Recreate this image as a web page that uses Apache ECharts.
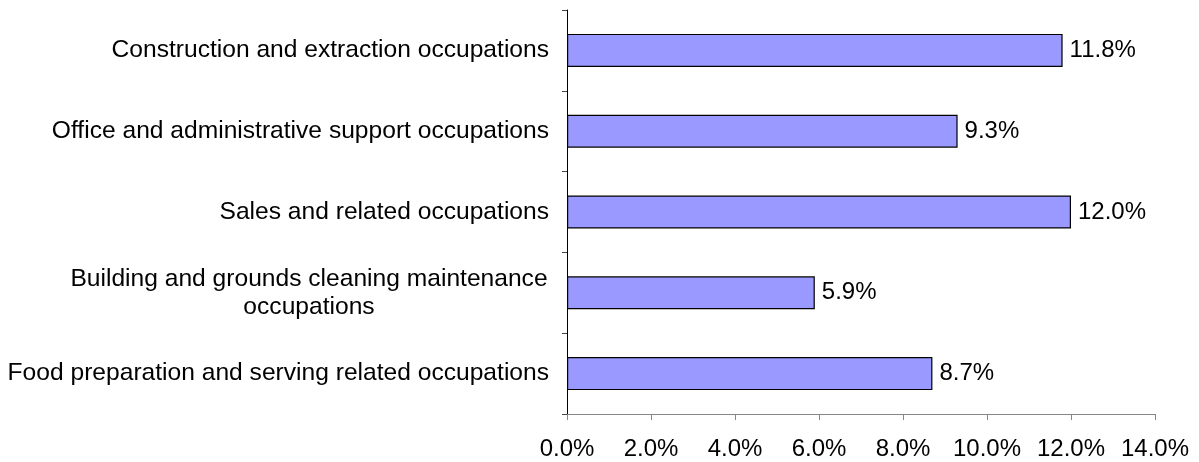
<!DOCTYPE html>
<html>
<head>
<meta charset="utf-8">
<script src="https://cdn.jsdelivr.net/npm/echarts@6/dist/echarts.min.js"></script>
<style>
html,body{margin:0;padding:0;background:#fff;}
#chart{width:1199px;height:462px;}
</style>
</head>
<body>
<div id="chart"></div>
<script>
const categories = [
  "Construction and extraction occupations",
  "Office and administrative support occupations",
  "Sales and related occupations",
  "Building and grounds cleaning maintenance\noccupations",
  "Food preparation and serving related occupations"
];
const values = [11.8, 9.3, 12.0, 5.9, 8.7];
const xTicks = { min: 0, max: 14, interval: 2 };

const FONT = "'Liberation Sans', Arial, sans-serif";
const CAT_FS = 24.6;
const chart = echarts.init(document.getElementById('chart'));
chart.setOption({
  animation: false,
  backgroundColor: '#ffffff',
  grid: { left: 567, right: 44, top: 10, bottom: 48, containLabel: false },
  xAxis: {
    type: 'value',
    min: xTicks.min, max: xTicks.max, interval: xTicks.interval,
    axisLine: { show: true, lineStyle: { color: '#868686', width: 1 } },
    axisTick: { show: true, inside: false, length: 6, lineStyle: { color: '#868686' } },
    splitLine: { show: false },
    axisLabel: {
      margin: 23, color: '#000', fontSize: 24, fontFamily: FONT,
      formatter: v => v.toFixed(1) + '%'
    }
  },
  yAxis: {
    type: 'category',
    data: categories,
    inverse: true,
    axisLine: { show: true, lineStyle: { color: '#000', width: 1 } },
    axisTick: { show: true, inside: false, length: 5, lineStyle: { color: '#444' } },
    axisLabel: {
      margin: 18, color: '#000', fontSize: CAT_FS, fontFamily: FONT,
      formatter: function (v) {
        if (v.indexOf('\n') >= 0) {
          return v.split('\n').map(s => '{c|' + s + '}').join('\n');
        }
        return v;
      },
      rich: {
        c: { fontSize: CAT_FS, fontFamily: FONT, color: '#000', width: 480, align: 'center', lineHeight: 28 }
      }
    }
  },
  series: [{
    type: 'bar',
    data: values,
    barWidth: 33,
    itemStyle: { color: '#9999FF', borderColor: '#000', borderWidth: 1.2 },
    label: {
      show: true, position: 'right', distance: 7,
      color: '#000', fontSize: 24, fontFamily: FONT,
      formatter: p => p.value.toFixed(1) + '%'
    }
  }]
});
</script>
</body>
</html>
